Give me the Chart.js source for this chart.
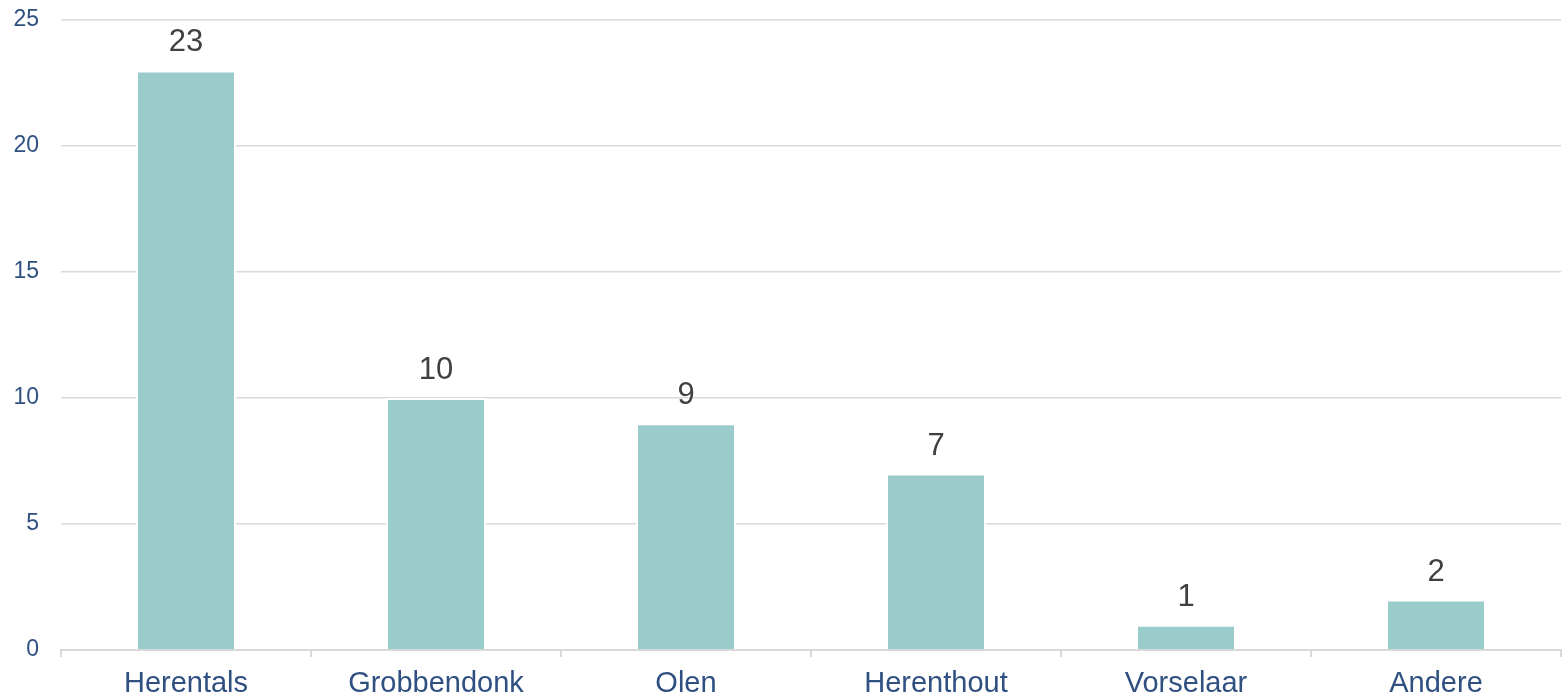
<!DOCTYPE html>
<html lang="en">
    <head>
        <meta charset="UTF-8" />
        <title>Gemeenten</title>
        <script src="https://cdn.jsdelivr.net/npm/chart.js@4"></script>
        <style>
            html, body { margin: 0; padding: 0; background: #ffffff; }
            #wrap { width: 1566px; height: 698px; }
        </style>
    </head>
    <body>
        <div id="wrap"><canvas id="myChart"></canvas></div>

        <script>
            const categories = ["Herentals", "Grobbendonk", "Olen", "Herenthout", "Vorselaar", "Andere"];
            const counts = [23, 10, 9, 7, 1, 2];
            const yTicks = [0, 5, 10, 15, 20, 25];

            const axisBlue = "#2F5080";
            const fontName = "'Liberation Sans', Arial, sans-serif";

            // value labels above the bars
            const barValuesPlugin = {
                id: "barValues",
                afterDatasetsDraw(chart) {
                    const ctx = chart.ctx;
                    const meta = chart.getDatasetMeta(0);
                    ctx.save();
                    ctx.font = "31px " + fontName;
                    ctx.fillStyle = "#404040";
                    ctx.textAlign = "center";
                    ctx.textBaseline = "alphabetic";
                    meta.data.forEach((bar, i) => {
                        ctx.fillText(String(counts[i]), bar.x, bar.y - 19);
                    });
                    ctx.restore();
                },
            };

            const config = {
                type: "bar",
                data: {
                    labels: categories,
                    datasets: [
                        {
                            data: counts,
                            backgroundColor: "#9BCCCC",
                            borderColor: "#ffffff",
                            borderWidth: 2,
                            borderSkipped: "bottom",
                            barPercentage: 0.4,
                            categoryPercentage: 1,
                        },
                    ],
                },
                options: {
                    responsive: true,
                    maintainAspectRatio: false,
                    animation: false,
                    layout: { padding: { top: 20, right: 5, left: 0, bottom: 0 } },
                    plugins: {
                        legend: { display: false },
                        tooltip: { enabled: false },
                    },
                    scales: {
                        x: {
                            offset: true,
                            grid: {
                                offset: true,
                                drawOnChartArea: false,
                                color: "#D9D9D9",
                                lineWidth: 2,
                                tickLength: 7,
                            },
                            border: { color: "#D9D9D9", width: 2 },
                            ticks: {
                                color: axisBlue,
                                font: { family: fontName, size: 29 },
                                padding: 10,
                            },
                            afterFit(scale) {
                                scale.height = 48;
                                scale.paddingLeft = 0;
                                scale.paddingRight = 0;
                            },
                        },
                        y: {
                            min: 0,
                            max: 25,
                            afterBuildTicks(scale) {
                                scale.ticks = yTicks.map((v) => ({ value: v }));
                            },
                            grid: {
                                color: "#D9D9D9",
                                lineWidth: 1.5,
                                drawTicks: false,
                            },
                            border: { display: false },
                            ticks: {
                                color: axisBlue,
                                font: { family: fontName, size: 23 },
                                padding: 22,
                            },
                            afterFit(scale) {
                                scale.width = 61;
                                scale.paddingTop = 0;
                                scale.paddingBottom = 0;
                            },
                        },
                    },
                },
                plugins: [barValuesPlugin],
            };

            const myChart = new Chart(document.getElementById("myChart"), config);
        </script>
    </body>
</html>
